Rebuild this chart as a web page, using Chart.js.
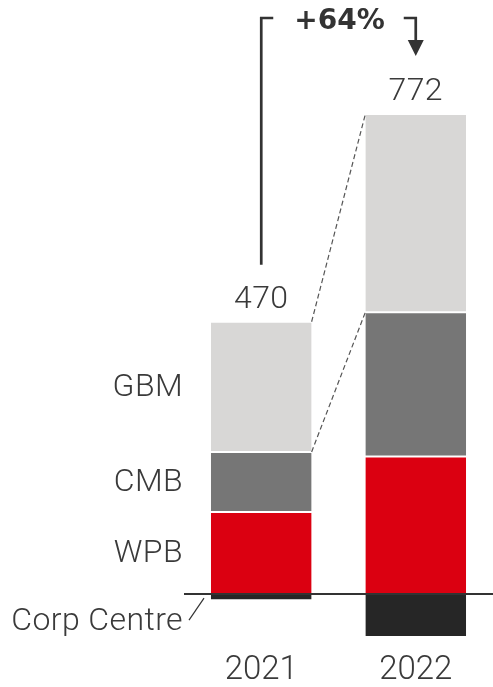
<!DOCTYPE html>
<html>
<head>
<meta charset="utf-8">
<script src="https://cdn.jsdelivr.net/npm/chart.js@4.4.1/dist/chart.umd.min.js"></script>
<style>
  html, body { margin: 0; padding: 0; background: #fff; }
</style>
</head>
<body>
<canvas id="profitChart" width="493" height="687"></canvas>
<script>
// Profit before tax by business, $m
const years = ["2021", "2022"];
const wpb = [145, 243];
const cmb = [106, 255];
const gbm = [230, 350];
const corpCentre = [-11, -76];
const totals = [470, 772];
const growthLabel = "+64%";

const red = "#db0011";
const darkGray = "#767676";
const lightGray = "#d8d7d6";
const black = "#262626";
const textColor = "#3a3a3a";
const fontFamily = "Roboto, 'Liberation Sans', sans-serif";

// Labels, connectors and the growth bracket drawn on top of the bars
const overlay = {
  id: "overlay",
  afterDatasetsDraw(chart) {
    const { ctx, chartArea, scales } = chart;
    const y0 = scales.y.getPixelForValue(0);
    const wpbBars = chart.getDatasetMeta(0).data;
    const cmbBars = chart.getDatasetMeta(1).data;
    const gbmBars = chart.getDatasetMeta(2).data;
    const corpBars = chart.getDatasetMeta(3).data;
    const left = gbmBars[0];
    const right = gbmBars[1];
    const leftEdge = left.x + left.width / 2;
    const rightEdge = right.x - right.width / 2;

    ctx.save();

    // zero line across the plot
    ctx.strokeStyle = "#333";
    ctx.lineWidth = 2;
    ctx.beginPath();
    ctx.moveTo(chartArea.left, y0);
    ctx.lineTo(chartArea.right, y0);
    ctx.stroke();

    // dashed guides from 2021 to 2022
    ctx.strokeStyle = "#555";
    ctx.lineWidth = 1.2;
    ctx.setLineDash([5, 3]);
    ctx.beginPath();
    ctx.moveTo(leftEdge, left.y);
    ctx.lineTo(rightEdge, right.y);
    ctx.moveTo(leftEdge, left.base);
    ctx.lineTo(rightEdge, right.base);
    ctx.stroke();
    ctx.setLineDash([]);

    // totals above each bar
    ctx.fillStyle = textColor;
    ctx.font = "300 32px " + fontFamily;
    ctx.letterSpacing = "0.4px";
    ctx.textAlign = "center";
    ctx.textBaseline = "alphabetic";
    gbmBars.forEach((bar, i) => {
      ctx.fillText(String(totals[i]), bar.x, bar.y - 14);
    });

    // business names beside the 2021 bar
    ctx.textAlign = "right";
    ctx.textBaseline = "middle";
    const names = [["WPB", wpbBars[0]], ["CMB", cmbBars[0]], ["GBM", gbmBars[0]]];
    names.forEach(([name, bar]) => {
      ctx.fillText(name, chartArea.left - 1, (bar.y + bar.base) / 2 + 1);
    });
    ctx.fillText("Corp Centre", chartArea.left - 1, corpBars[0].y + 22);

    // leader for Corp Centre
    ctx.strokeStyle = "#333";
    ctx.lineWidth = 1.2;
    ctx.beginPath();
    ctx.moveTo(chartArea.left + 5, corpBars[0].y + 20);
    ctx.lineTo(chartArea.left + 20, corpBars[0].y - 2);
    ctx.stroke();

    // growth bracket
    const bx1 = left.x;
    const bx2 = right.x;
    const topY = 18;
    ctx.strokeStyle = "#333";
    ctx.lineWidth = 2.7;
    ctx.beginPath();
    ctx.moveTo(bx1, left.y - 57);
    ctx.lineTo(bx1, topY);
    ctx.lineTo(bx1 + 12, topY);
    ctx.moveTo(bx2 - 12, topY);
    ctx.lineTo(bx2, topY);
    ctx.lineTo(bx2, 42);
    ctx.stroke();
    ctx.fillStyle = "#333";
    ctx.beginPath();
    ctx.moveTo(bx2 - 8, 40);
    ctx.lineTo(bx2 + 8, 40);
    ctx.lineTo(bx2, 56);
    ctx.closePath();
    ctx.fill();

    ctx.font = "bold 28px 'DejaVu Sans', sans-serif";
    ctx.textAlign = "center";
    ctx.textBaseline = "middle";
    ctx.letterSpacing = "0px";
    ctx.fillText(growthLabel, (bx1 + bx2) / 2 + 1, 22);
    ctx.restore();
  },
};

const segment = (label, data, color) => ({
  label: label,
  data: data,
  backgroundColor: color,
  borderColor: "#ffffff",
  borderWidth: { top: 1, bottom: 1, left: 0, right: 0 },
  borderSkipped: false,
  categoryPercentage: 1,
  barPercentage: 0.652,
});

new Chart(document.getElementById("profitChart"), {
  type: "bar",
  data: {
    labels: years,
    datasets: [
      segment("WPB", wpb, red),
      segment("CMB", cmb, darkGray),
      segment("GBM", gbm, lightGray),
      segment("Corp Centre", corpCentre, black),
    ],
  },
  options: {
    responsive: false,
    animation: false,
    devicePixelRatio: 1,
    layout: { padding: { left: 184, right: 0, top: 0, bottom: 0 } },
    plugins: {
      legend: { display: false },
      tooltip: { enabled: false },
    },
    scales: {
      x: {
        stacked: true,
        grid: { display: false, drawTicks: false },
        border: { display: false },
        ticks: {
          color: textColor,
          padding: 11,
          font: { family: fontFamily, size: 33, weight: 300 },
        },
        afterFit(scale) {
          scale.height = 47;
        },
      },
      y: {
        stacked: true,
        display: false,
        min: -81.3,
        max: 1049.5,
      },
    },
  },
  plugins: [overlay],
});
</script>
</body>
</html>
